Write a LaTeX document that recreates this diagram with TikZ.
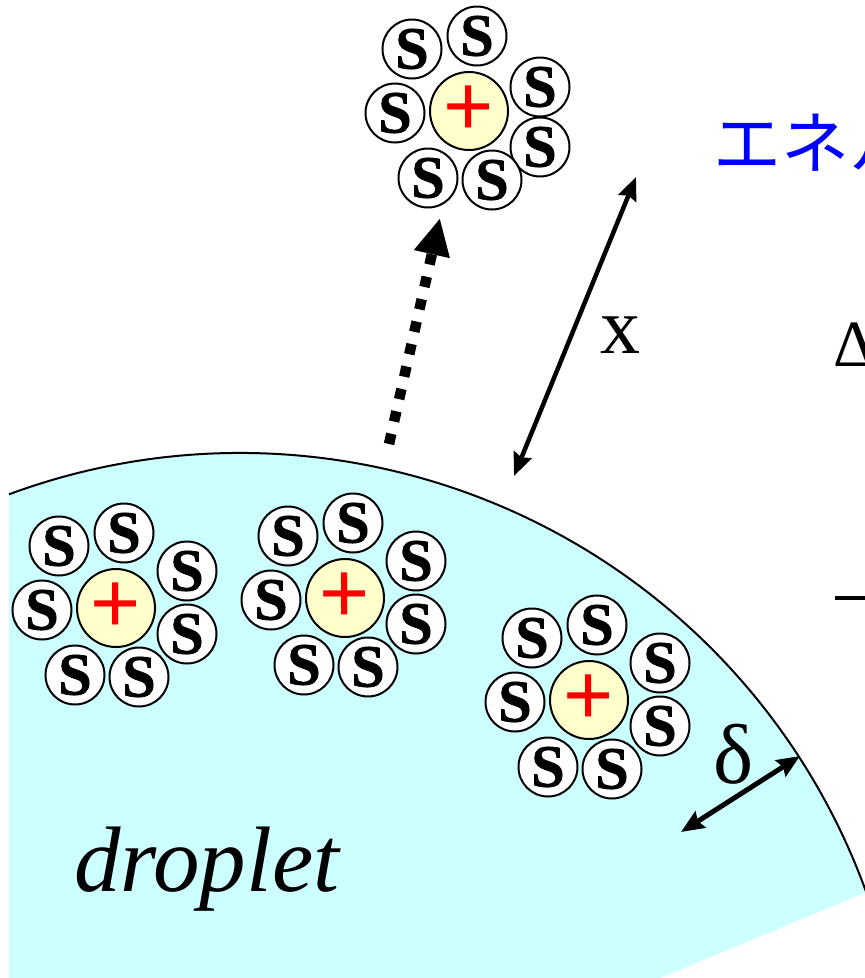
\documentclass[tikz,border=0pt]{standalone}
\usepackage{fontspec}
\setmainfont{Liberation Serif}
\newfontfamily\cjkfont{Noto Sans CJK JP}
\newfontfamily\plusfont{Liberation Sans}
\newfontfamily\solvfont{Liberation Serif}[UprightFont=*-Bold, FakeBold=1.2]
\usetikzlibrary{arrows.meta}

\definecolor{dropcyan}{RGB}{204,255,255}
\definecolor{ionyellow}{RGB}{255,255,204}
\definecolor{titleblue}{RGB}{0,0,255}

\tikzset{
  solv/.style={circle, draw, line width=2pt, fill=white, minimum size=59pt,
    inner sep=0pt, font=\solvfont\fontsize{60}{60}\selectfont},
  ion/.style={circle, draw, line width=2pt, fill=ionyellow, minimum size=78pt,
    inner sep=0pt, text=red, font=\plusfont\fontsize{86}{86}\selectfont},
  hop/.style={line width=10.5pt, dash pattern=on 10.5pt off 12.5pt,
    -{Triangle[length=37pt,width=34pt]}},
  dist/.style={line width=4.5pt,
    {Stealth[length=23pt,width=19pt,inset=3pt]}-{Stealth[length=23pt,width=19pt,inset=3pt]}},
  lbl/.style={inner sep=0pt, anchor=base},
}

% ion with its seven solvent molecules; #4, #5 = vertical offsets of the two right-hand molecules
\newcommand\solvshell[5]{%
  \begin{scope}[shift={(#2,#3)}]
    \node[ion]  (#1ion) at (0,0) {+};
    \node[solv] (#1s1) at (-57,62) {S};
    \node[solv] (#1s2) at (8,75) {S};
    \node[solv] (#1s3) at (71,#4) {S};
    \node[solv] (#1s4) at (71,#5) {S};
    \node[solv] (#1s5) at (23,-69) {S};
    \node[solv] (#1s6) at (-41,-67) {S};
    \node[solv] (#1s7) at (-74,-2) {S};
  \end{scope}}

\begin{document}
\begin{tikzpicture}[x=1pt,y=1pt]
  \useasboundingbox (0,0) rectangle (865,-978);
  \clip (0,0) rectangle (865,-978);

  % droplet: a sector of a large circle centred at (240,-1119)
  \fill[dropcyan] (9,-978) -- (9,-494.3)
     arc[start angle=110.3, end angle=19.9, radius=666pt] -- (660,-978) -- cycle;
  \draw[line width=2pt] (9,-494.3) arc[start angle=110.3, end angle=19.9, radius=666pt];

  % solvated ions
  \solvshell{top}{469}{-111}{24}{-36}
  \solvshell{a}{116}{-608}{37}{-26}
  \solvshell{b}{345}{-598}{37}{-26}
  \solvshell{c}{589}{-700}{37}{-26}

  % ion leaving the droplet surface
  \coordinate (hopStart) at (389,-444);
  \coordinate (hopEnd) at (440,-218);
  \draw[hop] (hopStart) -- (hopEnd);

  % distance x from the surface
  \coordinate (xLow) at (514,-476);
  \coordinate (xHigh) at (636,-177);
  \draw[dist] (xLow) -- (xHigh);
  \node[lbl] (xlabel) at (620,-353) {\fontsize{80}{80}\selectfont x};

  % surface layer thickness
  \coordinate (dIn) at (681,-832);
  \coordinate (dOut) at (800,-756);
  \draw[dist, line width=5pt] (dIn) -- (dOut);
  \node[lbl] (dlabel) at (734,-783) {\fontsize{85}{85}\selectfont δ};

  \node[lbl, anchor=base west] (droplabel) at (74,-891)
    {\fontsize{93}{93}\selectfont\itshape droplet};

  % heading and formula on the right
  \node[lbl, anchor=base west, text=titleblue] (title) at (713,-168)
    {\cjkfont\fontsize{68}{68}\selectfont エネル};
  \node[lbl, anchor=base west] (delta) at (833,-366) {\fontsize{66}{66}\selectfont Δ};
  \draw[line width=4.5pt] (835,-598) -- (872,-598);
\end{tikzpicture}
\end{document}
